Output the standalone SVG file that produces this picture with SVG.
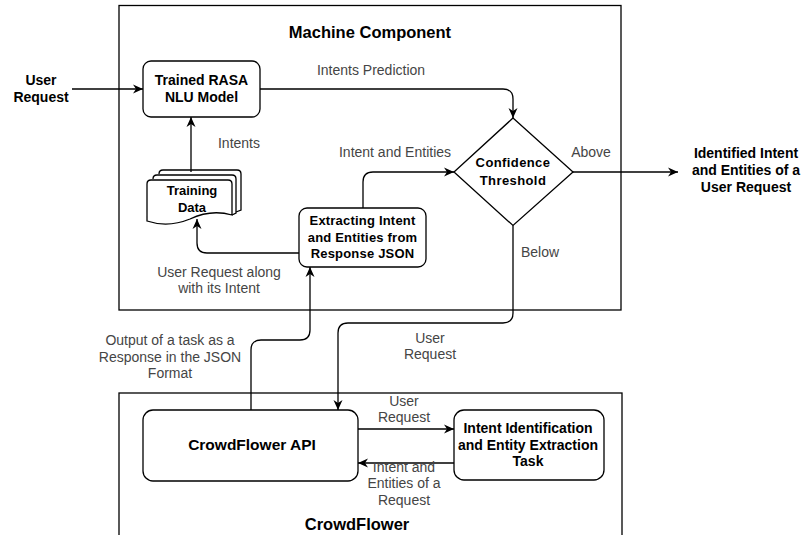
<svg xmlns="http://www.w3.org/2000/svg" width="802" height="535" viewBox="0 0 802 535">
<style>
.c{fill:none;stroke:#000;stroke-width:1.3}
.n{fill:#fff;stroke:#000;stroke-width:1.3}
.e{fill:none;stroke:#000;stroke-width:1.3}
.t{font-family:"Liberation Sans",Arial,sans-serif;font-weight:bold;fill:#000;text-anchor:middle}
.l{font-family:"Liberation Sans",Arial,sans-serif;font-size:14px;fill:#454545;text-anchor:middle}
</style>
<defs>
<marker id="a" viewBox="0 0 10 10" refX="10" refY="5" markerWidth="10" markerHeight="10" markerUnits="userSpaceOnUse" orient="auto">
<path d="M0,0.5 L10,5 L0,9.5 L3,5 z" fill="#000"/>
</marker>
</defs>
<rect width="802" height="535" fill="#fff"/>
<g id="machine-component">
<rect class="c" x="119" y="5.5" width="502" height="304.5"/>
<text class="t" x="370" y="38" font-size="16.5">Machine Component</text>
</g>
<g id="crowdflower">
<rect class="c" x="119" y="393" width="503" height="150"/>
<text class="t" x="357" y="530" font-size="16.5">CrowdFlower</text>
</g>
<g id="user-request">
<text class="t" x="41" y="85" font-size="14">User</text>
<text class="t" x="41" y="102" font-size="14">Request</text>
</g>
<g id="rasa-model">
<rect class="n" x="143" y="61" width="117" height="56" rx="8"/>
<text class="t" x="201.5" y="85" font-size="14">Trained RASA</text>
<text class="t" x="201.5" y="102" font-size="14">NLU Model</text>
</g>
<g id="training-data">
<path class="n" d="M159,174 Q159,170 163,170 H237 Q241,170 241,174 V210 L236,212"/>
<path class="n" d="M153,179 Q153,175 157,175 H232 Q236,175 236,179 V213 L232,215"/>
<path class="n" d="M147,184 Q147,180 151,180 H228 Q232,180 232,184 V215 Q211,209 190,219 Q168,228 147,221 Z"/>
<text class="t" x="192" y="195" font-size="13">Training</text>
<text class="t" x="192" y="212" font-size="13">Data</text>
</g>
<g id="confidence-threshold">
<polygon class="n" points="513,118 573,172 513,225.5 454,172"/>
<text class="t" x="513" y="167" font-size="13" letter-spacing="0.4">Confidence</text>
<text class="t" x="513" y="185" font-size="13" letter-spacing="0.4">Threshold</text>
</g>
<g id="extracting">
<rect class="n" x="299" y="208" width="127" height="59" rx="8"/>
<text class="t" x="362.5" y="225" font-size="13" letter-spacing="0.2">Extracting Intent</text>
<text class="t" x="362.5" y="242" font-size="13" letter-spacing="0.2">and Entities from</text>
<text class="t" x="362.5" y="258" font-size="13" letter-spacing="0.2">Response JSON</text>
</g>
<g id="identified-output">
<text class="t" x="746" y="158" font-size="14">Identified Intent</text>
<text class="t" x="746" y="175" font-size="14">and Entities of a</text>
<text class="t" x="746" y="192" font-size="14">User Request</text>
</g>
<g id="crowdflower-api">
<rect class="n" x="143" y="410" width="215" height="71" rx="10"/>
<text class="t" x="252" y="450" font-size="15.5">CrowdFlower API</text>
</g>
<g id="task">
<rect class="n" x="454" y="410" width="150" height="70" rx="10"/>
<text class="t" x="528" y="433" font-size="14">Intent Identification</text>
<text class="t" x="528" y="450" font-size="14">and Entity Extraction</text>
<text class="t" x="528" y="466" font-size="14">Task</text>
</g>
<g id="connectors">
<path class="e" d="M72,89 H143" marker-end="url(#a)"/>
<path class="e" d="M260,89 H503 Q513,89 513,99 V118" marker-end="url(#a)"/>
<path class="e" d="M191,172 V117" marker-end="url(#a)"/>
<path class="e" d="M363,208 V182 Q363,172 373,172 H454" marker-end="url(#a)"/>
<path class="e" d="M573,172 H678" marker-end="url(#a)"/>
<path class="e" d="M299,253 H207 Q197,253 197,243 V219" marker-end="url(#a)"/>
<path class="e" d="M251,410 V350 Q251,340 261,340 H300 Q310,340 310,330 V267" marker-end="url(#a)"/>
<path class="e" d="M513,225.5 V313 Q513,323 503,323 H348 Q338,323 338,333 V410" marker-end="url(#a)"/>
<path class="e" d="M358,429 H454" marker-end="url(#a)"/>
<path class="e" d="M454,463 H358" marker-end="url(#a)"/>
<text class="l" x="371" y="75">Intents Prediction</text>
<text class="l" x="239" y="148">Intents</text>
<text class="l" x="395" y="157">Intent and Entities</text>
<text class="l" x="591" y="157">Above</text>
<text class="l" x="540" y="257">Below</text>
<text class="l" x="219" y="277">User Request along</text>
<text class="l" x="219" y="293">with its Intent</text>
<text class="l" x="170" y="345">Output of a task as a</text>
<text class="l" x="170" y="362">Response in the JSON</text>
<text class="l" x="170" y="378">Format</text>
<text class="l" x="430" y="343">User</text>
<text class="l" x="430" y="359">Request</text>
<text class="l" x="404" y="406">User</text>
<text class="l" x="404" y="422">Request</text>
<text class="l" x="404" y="472">Intent and</text>
<text class="l" x="404" y="488">Entities of a</text>
<text class="l" x="404" y="505">Request</text>
</g>
</svg>
